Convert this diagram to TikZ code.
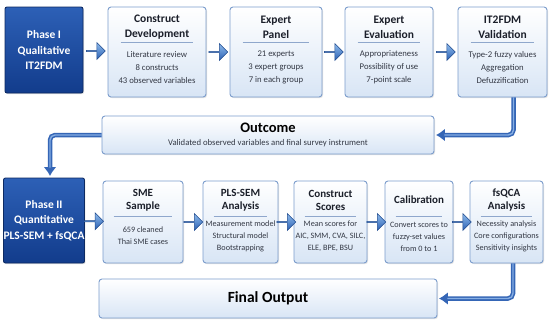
\documentclass[tikz,border=0pt]{standalone}
\usepackage{fontspec}
\setmainfont{Carlito}
\usetikzlibrary{arrows.meta, positioning, calc, shapes.arrows, shadows}

\definecolor{navy}{HTML}{123C8C}
\definecolor{navytop}{HTML}{2D60B6}
\definecolor{boxedge}{HTML}{7C9DCC}
\definecolor{boxfill}{HTML}{D8E5F5}
\definecolor{sepcol}{HTML}{8FA7CC}
\definecolor{pipeblue}{HTML}{3566B6}
\definecolor{pipelight}{HTML}{86AEE3}
\definecolor{flowtop}{HTML}{8FBCEC}
\definecolor{flowbot}{HTML}{2A5FB3}
\definecolor{inktext}{HTML}{1B1F2A}
\definecolor{bodytext}{HTML}{333844}

\begin{document}
\begin{tikzpicture}[x=1pt, y=-1pt,
    stage/.style={rectangle, draw=boxedge, line width=0.9pt, rounded corners=3pt,
                  top color=white, bottom color=boxfill, inner sep=0pt, align=center,
                  drop shadow={opacity=0.22, shadow xshift=1pt, shadow yshift=-1.2pt}},
    phase/.style={rectangle, draw=navy!70!black, line width=0.9pt, rounded corners=2pt,
                  top color=navytop, bottom color=navy, text=white, align=center,
                  inner sep=0pt, font=\bfseries\fontsize{11.5}{15.5}\selectfont,
                  drop shadow={opacity=0.25, shadow xshift=1pt, shadow yshift=-1.2pt}},
    toptitle/.style={align=center, text=inktext, inner sep=0pt,
                     font=\bfseries\fontsize{11.5}{15}\selectfont},
    lowtitle/.style={toptitle, font=\bfseries\fontsize{11}{13}\selectfont},
    topbody/.style={align=center, text=bodytext, inner sep=0pt,
                    font=\fontsize{8.7}{13}\selectfont},
    lowbody/.style={topbody, font=\fontsize{8.2}{12}\selectfont},
    sep/.style={draw=sepcol, line width=0.6pt},
    flow/.style={single arrow, draw=flowbot!80!black, line width=0.5pt,
                 top color=flowtop, bottom color=flowbot, inner sep=0pt,
                 minimum height=19pt, minimum width=17pt, single arrow head extend=3.5pt},
    pipe/.style={draw=pipeblue, line width=4.5pt, rounded corners=5pt,
                 -{Latex[length=9pt, width=13pt]}, shorten >=1.5pt},
    pipehi/.style={draw=pipelight, line width=1.4pt, rounded corners=5pt, shorten >=10pt}
]
    \useasboundingbox[fill=white] (0,0) rectangle (550,325);

    % phase I row
    \node[phase, minimum width=78pt, minimum height=86pt] (p1) at (44,50)
        {Phase I\\Qualitative\\IT2FDM};

    \node[stage, minimum width=98pt, minimum height=90pt] (cd) at (157,52) {};
    \node[toptitle] (cdT) at ($(cd.north)+(0,20.5)$) {Construct\\Development};
    \draw[sep] ($(cd.north west)+(13,36)$) -- ($(cd.north east)+(-13,36)$);
    \node[topbody] (cdB) at ($(cd.north)+(0,61)$)
        {Literature review\\8 constructs\\43 observed variables};

    \node[stage, minimum width=92pt, minimum height=90pt] (ep) at (276,52) {};
    \node[toptitle] (epT) at ($(ep.north)+(0,20.5)$) {Expert\\Panel};
    \draw[sep] ($(ep.north west)+(13,36)$) -- ($(ep.north east)+(-13,36)$);
    \node[topbody] (epB) at ($(ep.north)+(0,61)$)
        {21 experts\\3 expert groups\\7 in each group};

    \node[stage, minimum width=88pt, minimum height=90pt] (ee) at (389,52) {};
    \node[toptitle] (eeT) at ($(ee.north)+(0,20.5)$) {Expert\\Evaluation};
    \draw[sep] ($(ee.north west)+(13,36)$) -- ($(ee.north east)+(-13,36)$);
    \node[topbody] (eeB) at ($(ee.north)+(0,61)$)
        {Appropriateness\\Possibility of use\\7-point scale};

    \node[stage, minimum width=89pt, minimum height=90pt] (it) at (502.5,52) {};
    \node[toptitle] (itT) at ($(it.north)+(0,20.5)$) {IT2FDM\\Validation};
    \draw[sep] ($(it.north west)+(13,36)$) -- ($(it.north east)+(-13,36)$);
    \node[topbody] (itB) at ($(it.north)+(0,61)$)
        {Type-2 fuzzy values\\Aggregation\\Defuzzification};

    \node[flow] (f1) at ($(p1.east)!0.5!(cd.west)$) {};
    \node[flow] (f2) at ($(cd.east)!0.5!(ep.west)$) {};
    \node[flow] (f3) at ($(ep.east)!0.5!(ee.west)$) {};
    \node[flow] (f4) at ($(ee.east)!0.5!(it.west)$) {};

    % outcome
    \node[stage, minimum width=332pt, minimum height=38pt] (out) at (268,135)
        {{\bfseries\fontsize{14.5}{14}\selectfont Outcome}\\[1.5pt]
         {\color{bodytext}\fontsize{8.7}{10}\selectfont Validated observed variables and final survey instrument}};

    % phase II row
    \node[phase, minimum width=78pt, minimum height=85pt] (p2) at (44,220.5)
        {Phase II\\Quantitative\\PLS-SEM + fsQCA};

    \node[stage, minimum width=80pt, minimum height=82pt] (sm) at (143,222) {};
    \node[lowtitle] (smT) at ($(sm.north)+(0,19.5)$) {SME\\Sample};
    \draw[sep] ($(sm.north west)+(11,36)$) -- ($(sm.north east)+(-11,36)$);
    \node[lowbody] (smB) at ($(sm.north)+(0,55.5)$) {659 cleaned\\Thai SME cases};

    \node[stage, minimum width=75pt, minimum height=82pt] (pl) at (240.5,222) {};
    \node[lowtitle] (plT) at ($(pl.north)+(0,19.5)$) {PLS-SEM\\Analysis};
    \draw[sep] ($(pl.north west)+(11,36)$) -- ($(pl.north east)+(-11,36)$);
    \node[lowbody] (plB) at ($(pl.north)+(0,56)$)
        {Measurement model\\Structural model\\Bootstrapping};

    \node[stage, minimum width=73pt, minimum height=82pt] (cs) at (330.5,222) {};
    \node[lowtitle] (csT) at ($(cs.north)+(0,19.5)$) {Construct\\Scores};
    \draw[sep] ($(cs.north west)+(11,36)$) -- ($(cs.north east)+(-11,36)$);
    \node[lowbody] (csB) at ($(cs.north)+(0,56)$)
        {Mean scores for\\AIC, SMM, CVA, SILC,\\ELE, BPE, BSU};

    \node[stage, minimum width=68pt, minimum height=82pt] (ca) at (419,222) {};
    \node[lowtitle] (caT) at ($(ca.north)+(0,19)$) {Calibration};
    \draw[sep] ($(ca.north west)+(11,36)$) -- ($(ca.north east)+(-11,36)$);
    \node[lowbody] (caB) at ($(ca.north)+(0,56)$)
        {Convert scores to\\fuzzy-set values\\from 0 to 1};

    \node[stage, minimum width=73pt, minimum height=82pt] (fq) at (506.5,222) {};
    \node[lowtitle] (fqT) at ($(fq.north)+(0,19.5)$) {fsQCA\\Analysis};
    \draw[sep] ($(fq.north west)+(11,36)$) -- ($(fq.north east)+(-11,36)$);
    \node[lowbody] (fqB) at ($(fq.north)+(0,56)$)
        {Necessity analysis\\Core configurations\\Sensitivity insights};

    \node[flow] (g1) at ($(p2.east)!0.5!(sm.west)$) {};
    \node[flow] (g2) at ($(sm.east)!0.5!(pl.west)$) {};
    \node[flow] (g3) at ($(pl.east)!0.5!(cs.west)$) {};
    \node[flow] (g4) at ($(cs.east)!0.5!(ca.west)$) {};
    \node[flow] (g5) at ($(ca.east)!0.5!(fq.west)$) {};

    % final output
    \node[stage, minimum width=338pt, minimum height=39pt] (fin) at (268,298.5)
        {\bfseries\fontsize{15.5}{15}\selectfont Final Output};

    % elbow connectors
    \draw[pipe] ([xshift=11pt]it.south) |- (out.east);
    \draw[pipehi] ([xshift=11pt]it.south) |- (out.east);
    \draw[pipe] (out.west) -| ([xshift=6pt]p2.north);
    \draw[pipehi] (out.west) -| ([xshift=6pt]p2.north);
    \draw[pipe] ([xshift=6.5pt]fq.south) |- (fin.east);
    \draw[pipehi] ([xshift=6.5pt]fq.south) |- (fin.east);
\end{tikzpicture}
\end{document}
